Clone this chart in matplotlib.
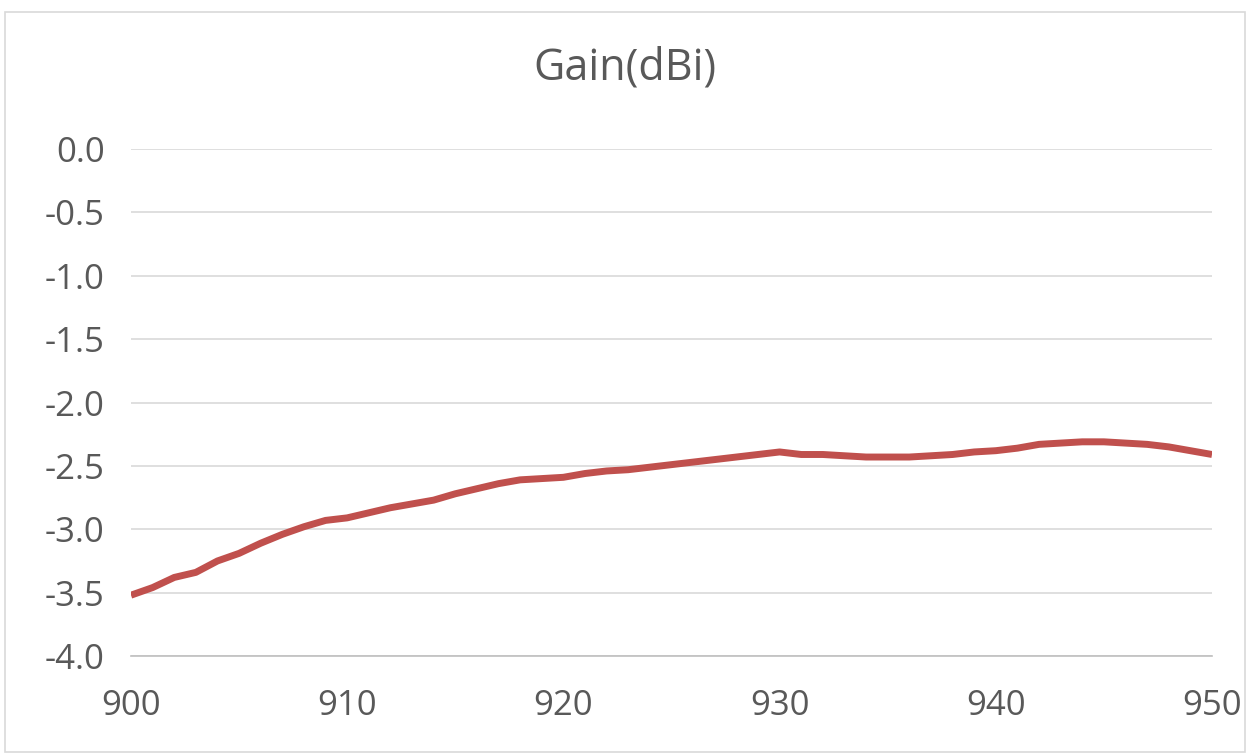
import matplotlib
matplotlib.use("Agg")
import matplotlib.pyplot as plt
from matplotlib.patches import Rectangle

freq = list(range(900, 951))
gain = [-3.52, -3.46, -3.38, -3.34, -3.25, -3.19, -3.11, -3.04, -2.98, -2.93,
        -2.91, -2.87, -2.83, -2.80, -2.77, -2.72, -2.68, -2.64, -2.61, -2.60,
        -2.59, -2.56, -2.54, -2.53, -2.51, -2.49, -2.47, -2.45, -2.43, -2.41,
        -2.39, -2.41, -2.41, -2.42, -2.43, -2.43, -2.43, -2.42, -2.41, -2.39,
        -2.38, -2.36, -2.33, -2.32, -2.31, -2.31, -2.32, -2.33, -2.35, -2.38, -2.41]
yticks = [0.0, -0.5, -1.0, -1.5, -2.0, -2.5, -3.0, -3.5, -4.0]
xticks = [900, 910, 920, 930, 940, 950]
title = "Gain(dBi)"

plt.rcParams['font.family'] = ['Open Sans', 'DejaVu Sans']
fig = plt.figure(figsize=(12.5, 7.55), dpi=100)
fig.patch.set_facecolor('white')
fig.patches.append(Rectangle((5/1250, 1-752/755), 1240/1250, 740/755, transform=fig.transFigure,
                             fill=False, edgecolor='#D9D9D9', linewidth=1.2))
ax = fig.add_axes([0.1048, 0.1311, 0.8648, 0.6715])
ax.plot(freq, gain, color='#C0504D', linewidth=5, solid_capstyle='butt',
        solid_joinstyle='round', zorder=3)
ax.set_xlim(900, 950)
ax.set_ylim(-4.0, 0.0)
ax.set_yticks(yticks)
ax.set_yticklabels([f"{v:.1f}" for v in yticks])
ax.set_xticks(xticks)
ax.set_xticklabels([str(v) for v in xticks])
ax.grid(axis='y', color='#D9D9D9', linewidth=1.2)
ax.grid(axis='x', visible=False)
for s in ['top', 'right', 'left']:
    ax.spines[s].set_visible(False)
ax.spines['bottom'].set_color('#BFBFBF')
ax.spines['bottom'].set_linewidth(1.2)
ax.tick_params(axis='both', length=0, labelsize=25, labelcolor='#595959')
ax.tick_params(axis='y', pad=19)
ax.tick_params(axis='x', pad=24)
fig.text(0.5, 1-68/755, title, ha='center', va='center', fontsize=31, color='#595959')
fig.savefig("out.png", dpi=100)
